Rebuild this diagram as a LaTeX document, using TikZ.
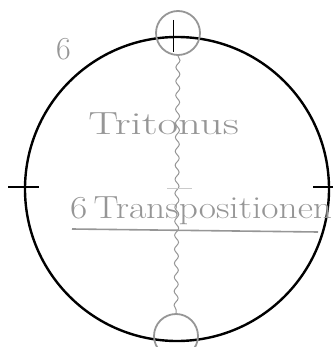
\documentclass[tikz,border=0pt]{standalone}
\usetikzlibrary{decorations.pathmorphing}
\definecolor{bleistift}{RGB}{150,150,150}

\begin{document}
\begin{tikzpicture}[x=1pt, y=-1pt,
    kreis/.style={circle, draw=black, line width=2.4pt, inner sep=0pt},
    marke/.style={circle, draw=bleistift, line width=1.8pt, inner sep=0pt, minimum size=44pt},
    schrift/.style={text=bleistift, font=\fontsize{32}{36}\selectfont, inner sep=0pt, anchor=base west}]

    % --- Rahmen ---
    \useasboundingbox (0,0) rectangle (333,347);

    % --- Parameter ---
    \def\r{152} % Radius des Quintenkreises

    % 1. Großer Kreis und Achsenmarken
    \node[kreis, minimum size=2*\r pt] (kreis) at (177,189) {};
    \coordinate (li1) at (8,187);
    \coordinate (li2) at (39,187);
    \coordinate (re1) at (313,187);
    \coordinate (re2) at (333,187);
    \draw[line width=1.2pt] (li1) -- (li2);
    \draw[line width=1.2pt] (re1) -- (re2);

    % 2. Markierte Punkte oben und unten
    \node[marke] (oben) at (178,33) {};
    \node[marke] (unten) at (176,336) {};
    \coordinate (o1) at (173,20);
    \coordinate (o2) at (173,52);
    \draw[line width=1pt] (o1) -- (o2);

    % 3. Verbindung (gewellt) zwischen den Punkten
    \draw[bleistift, line width=1pt, decorate,
          decoration={snake, amplitude=2pt, segment length=14pt}]
        (oben.south) -- (unten.north);

    % schwaches Kreuz in der Mitte
    \coordinate (m1) at (167,188);
    \coordinate (m2) at (192,188);
    \draw[bleistift!50, line width=0.8pt] (m1) -- (m2);

    % --- Beschriftung ---
    \node[schrift] (sechs) at (56,60) {6};
    \node[schrift, xscale=1.4] (tri) at (88,135) {Tritonus};
    \node[schrift, xscale=1.17] (trans) at (70,218) {6\,Transpositionen};
    \coordinate (u1) at (72,229);
    \coordinate (u2) at (318,232);
    \draw[bleistift, line width=1.6pt] (u1) -- (u2);

\end{tikzpicture}
\end{document}
